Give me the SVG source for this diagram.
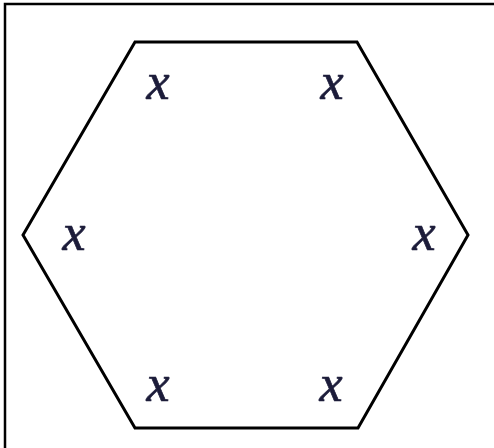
<svg xmlns="http://www.w3.org/2000/svg" width="494" height="448" viewBox="0 0 494 448">
<style>
.lbl{font-family:"Liberation Serif","Times New Roman",serif;font-style:italic;font-size:52px;fill:#1c1c3a;stroke:#1c1c3a;stroke-width:0.7;text-anchor:middle}
.hex{fill:none;stroke:#000;stroke-width:3;stroke-linejoin:miter}
</style>
<rect x="0" y="0" width="494" height="448" fill="#fff"/>
<path d="M5,448 V4 H494" fill="none" stroke="#000" stroke-width="2.5"/>
<g id="hexagon">
<polygon class="hex" points="135,42 357,42 468,235 358,428 135,428 23,235"/>
</g>
<g id="labels">
<text class="lbl" x="158" y="99">x</text>
<text class="lbl" x="332" y="99">x</text>
<text class="lbl" x="74" y="250">x</text>
<text class="lbl" x="424" y="250">x</text>
<text class="lbl" x="158" y="401">x</text>
<text class="lbl" x="331" y="401">x</text>
</g>
</svg>
